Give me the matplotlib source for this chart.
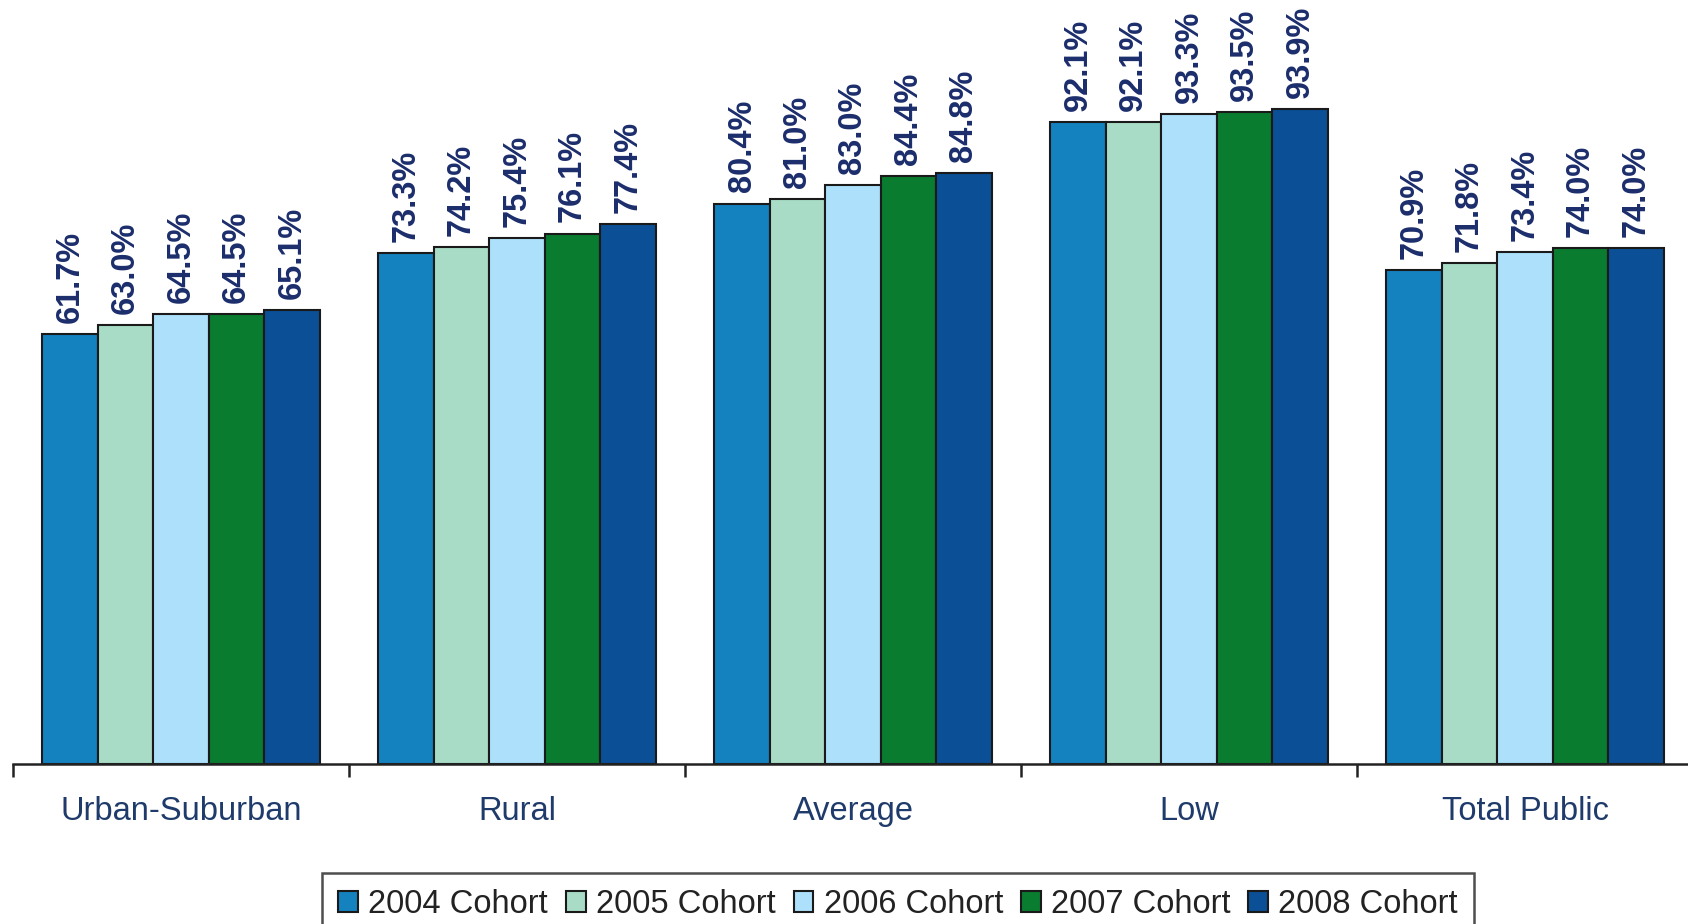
import matplotlib
matplotlib.use("Agg")
import matplotlib.pyplot as plt
import numpy as np
from matplotlib.patches import Patch

plt.rcParams["font.family"] = ["Liberation Sans", "DejaVu Sans"]

categories = ["Urban-Suburban", "Rural", "Average", "Low", "Total Public"]
cohorts = ["2004 Cohort", "2005 Cohort", "2006 Cohort", "2007 Cohort", "2008 Cohort"]
values_2004 = [61.7, 73.3, 80.4, 92.1, 70.9]
values_2005 = [63.0, 74.2, 81.0, 92.1, 71.8]
values_2006 = [64.5, 75.4, 83.0, 93.3, 73.4]
values_2007 = [64.5, 76.1, 84.4, 93.5, 74.0]
values_2008 = [65.1, 77.4, 84.8, 93.9, 74.0]
series = [values_2004, values_2005, values_2006, values_2007, values_2008]

colors = ["#1482bf", "#a9dcc6", "#ade0fa", "#0a7c30", "#0b4f97"]
label_color = "#1c2d6c"
cat_color = "#1f3b6b"

fig = plt.figure(figsize=(16.88, 9.24), dpi=100)
ax = fig.add_axes([13 / 1688, 160 / 924, 1680 / 1688, 764 / 924])

x = np.arange(len(categories))
bw = 0.165
for i, (vals, col) in enumerate(zip(series, colors)):
    pos = x + (i - 2) * bw
    ax.bar(pos, vals, width=bw, color=col, edgecolor="#1a1a1a", linewidth=1.5, zorder=2)
    for px, v in zip(pos, vals):
        ax.annotate(f"{v:.1f}%", (px, v), xytext=(0, 8), textcoords="offset points",
                    rotation=90, ha="center", va="bottom", fontsize=23.5,
                    fontweight="bold", color=label_color)

ax.set_xlim(-0.5, len(categories) - 0.5)
ax.set_ylim(0, 109.6)
ax.set_yticks([])
for s in ["top", "right", "left"]:
    ax.spines[s].set_visible(False)
ax.spines["bottom"].set_linewidth(1.8)
ax.spines["bottom"].set_color("#222222")

ax.set_xticks(np.arange(len(categories) + 1) - 0.5)
ax.set_xticklabels([])
ax.tick_params(axis="x", which="major", length=9, width=1.8, color="#222222", direction="out")
ax.set_xticks(x, minor=True)
ax.set_xticklabels(categories, minor=True, fontsize=23.5, color=cat_color)
ax.tick_params(axis="x", which="minor", length=0, pad=23)

handles = [Patch(facecolor=c, edgecolor="#1a1a1a", linewidth=1.5) for c in colors]
leg = fig.legend(handles, cohorts, ncol=5, loc="upper left",
                 bbox_to_anchor=(322 / 1688, 1 - 873 / 924),
                 fontsize=23.5, frameon=True, fancybox=False, edgecolor="#222222",
                 handlelength=0.61, handleheight=0.61, handletextpad=0.31,
                 columnspacing=0.55, borderpad=0.5, borderaxespad=0)
leg.get_frame().set_linewidth(1.8)
for t in leg.get_texts():
    t.set_color("#222222")

fig.savefig("out.png", dpi=100, facecolor="white")
